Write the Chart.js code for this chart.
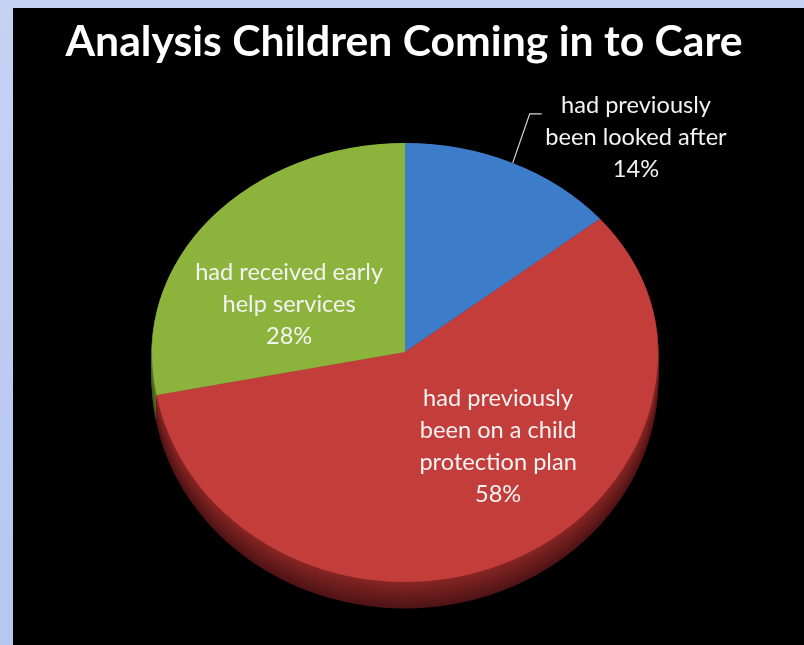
<!DOCTYPE html>
<html>
<head>
<meta charset="utf-8">
<script src="https://cdn.jsdelivr.net/npm/chart.js@4/dist/chart.umd.min.js"></script>
<style>
  html, body { margin: 0; padding: 0; width: 804px; height: 645px; overflow: hidden; background: #bccaf0; }
  #wrap { position: absolute; left: 0; top: 0; width: 804px; height: 645px; }
</style>
</head>
<body>
<div id="wrap"><canvas id="c" width="804" height="645"></canvas></div>
<script>
// ---- data ----
const chartTitle = 'Analysis Children Coming in to Care';
const categories = [
  'had previously been looked after',
  'had previously been on a child protection plan',
  'had received early help services'
];
const values = [14, 58, 28];
const labelLines = [
  ['had previously', 'been looked after'],
  ['had previously', 'been on a child', 'protection plan'],
  ['had received early', 'help services']
];

// ---- styles ----
const faceColors = ['#3d7cc9', '#c33d3b', '#8cb43c'];
const sideTop = [[40, 84, 140], [134, 38, 36], [92, 120, 40]];
const sideBottom = [[24, 50, 90], [80, 20, 22], [58, 78, 24]];
const tiltTop = 0.826;    // vertical squash of the far half of the face
const tiltBottom = 0.909; // vertical squash of the near half
const depth = 26;         // thickness of the 3D side, px
// label anchor offsets as fractions of the pie radius (dx, dy)
const labelAnchors = [[0.913, -0.85], [0.368, 0.372], [-0.458, -0.19]];
const lineGap = 32;

// draw something under the perspective-like projection (two half-ellipses)
function projected(ctx, cx, cy, R, dy, fn) {
  [[tiltTop, cy - R - 5, cy], [tiltBottom, cy, cy + R + 5]].forEach(([k, y0, y1]) => {
    ctx.save();
    ctx.translate(0, dy);
    ctx.beginPath();
    ctx.rect(cx - R - 5, y0, 2 * R + 10, y1 - y0);
    ctx.clip();
    ctx.translate(cx, cy);
    ctx.scale(1, k);
    ctx.translate(-cx, -cy);
    fn();
    ctx.restore();
  });
}

const pie3d = {
  id: 'pie3d',
  beforeDraw(chart) {
    const ctx = chart.ctx;
    ctx.save();
    const g = ctx.createLinearGradient(0, 0, 0, 645);
    g.addColorStop(0, '#c6d2f4');
    g.addColorStop(1, '#b6c6f0');
    ctx.fillStyle = g;
    ctx.fillRect(0, 0, 804, 645);
    ctx.fillStyle = '#000000';
    ctx.fillRect(13, 8, 804 - 13, 645 - 8);
    ctx.restore();
  },
  beforeDatasetsDraw(chart) {
    const ctx = chart.ctx;
    const arcs = chart.getDatasetMeta(0).data;
    const p0 = arcs[0].getProps(['x', 'y', 'outerRadius'], true);
    const cx = p0.x, cy = p0.y, R = p0.outerRadius;
    // side walls
    for (let d = depth; d >= 1; d--) {
      const t = d / depth;
      projected(ctx, cx, cy, R, d, () => {
        arcs.forEach((a, i) => {
          const p = a.getProps(['x', 'y', 'startAngle', 'endAngle', 'outerRadius'], true);
          const c0 = sideTop[i], c1 = sideBottom[i];
          const col = c0.map((v, k) => Math.round(v + (c1[k] - v) * t));
          ctx.fillStyle = 'rgb(' + col.join(',') + ')';
          ctx.beginPath();
          ctx.moveTo(p.x, p.y);
          ctx.arc(p.x, p.y, p.outerRadius + 0.5, p.startAngle, p.endAngle);
          ctx.closePath();
          ctx.fill();
        });
      });
    }
    // the face: the library's own arc elements, drawn under the projection
    projected(ctx, cx, cy, R, 0, () => {
      arcs.forEach(a => a.draw(ctx));
    });
    return false;
  },
  afterDraw(chart) {
    const ctx = chart.ctx;
    const arcs = chart.getDatasetMeta(0).data;
    const p0 = arcs[0].getProps(['x', 'y', 'outerRadius', 'startAngle', 'endAngle'], true);
    const cx = p0.x, cy = p0.y, R = p0.outerRadius;

    // title
    ctx.save();
    ctx.fillStyle = '#ffffff';
    ctx.textAlign = 'center';
    ctx.textBaseline = 'alphabetic';
    ctx.font = 'bold 40px Lato';
    const w = ctx.measureText(chartTitle).width;
    const fs = 40 * 677 / w;
    ctx.font = 'bold ' + fs.toFixed(1) + 'px Lato';
    ctx.fillText(chartTitle, 404, 56);
    ctx.restore();

    // labels
    ctx.save();
    ctx.font = '19px Lato';
    const lw = ctx.measureText('had received early').width;
    const lfs = 19 * 188 / lw;
    ctx.font = lfs.toFixed(1) + 'px Lato';
    ctx.fillStyle = '#f3f3f3';
    ctx.textAlign = 'center';
    ctx.textBaseline = 'middle';
    arcs.forEach((a, i) => {
      const lines = labelLines[i].concat([values[i] + '%']);
      const ax = cx + labelAnchors[i][0] * R;
      const ay = cy + labelAnchors[i][1] * R;
      const top = ay - (lines.length - 1) * lineGap / 2;
      lines.forEach((s, k) => ctx.fillText(s, ax, top + k * lineGap));
    });
    ctx.restore();

    // leader line for the outside label (first slice)
    const mid = (p0.startAngle + p0.endAngle) / 2;
    const sx = cx + Math.cos(mid) * R;
    const sy = cy + Math.sin(mid) * R * tiltTop;
    ctx.save();
    ctx.strokeStyle = '#d8d8d8';
    ctx.lineWidth = 1.2;
    ctx.beginPath();
    ctx.moveTo(sx, sy);
    ctx.lineTo(sx + 17, sy - 49);
    ctx.lineTo(sx + 29, sy - 49);
    ctx.stroke();
    ctx.restore();
  }
};

new Chart(document.getElementById('c'), {
  type: 'pie',
  data: {
    labels: categories,
    datasets: [{
      data: values,
      backgroundColor: faceColors,
      borderWidth: 0
    }]
  },
  options: {
    responsive: false,
    animation: false,
    events: [],
    layout: { padding: { left: 152, right: 146, top: 99, bottom: 40 } },
    plugins: {
      legend: { display: false },
      title: { display: false },
      tooltip: { enabled: false }
    }
  },
  plugins: [pie3d]
});
</script>
</body>
</html>
